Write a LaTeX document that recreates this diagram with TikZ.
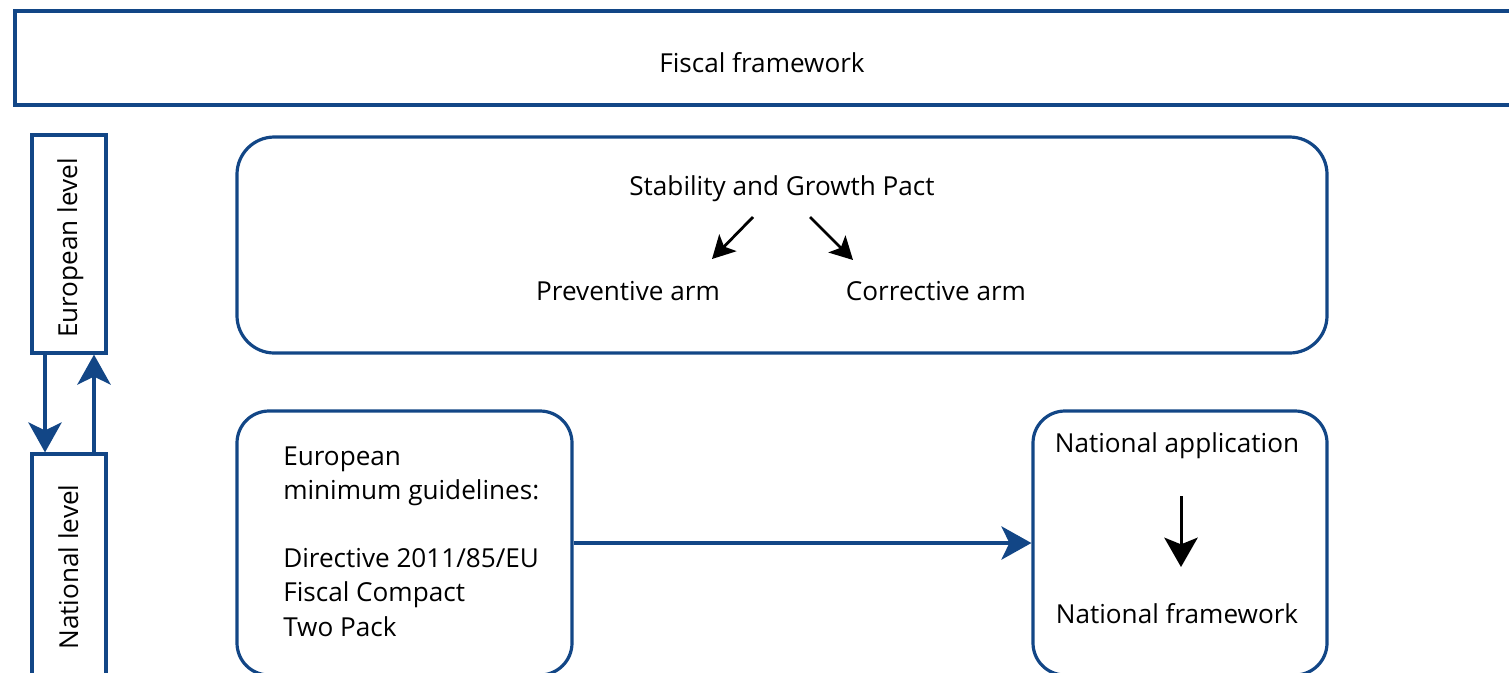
\documentclass[tikz,border=0pt]{standalone}
\usepackage{fontspec}
\setmainfont{Open Sans}
\usetikzlibrary{arrows.meta,fit}
\definecolor{fwblue}{RGB}{18,70,134}

\begin{document}
\begin{tikzpicture}[x=0.75pt,y=-0.75pt,
  every node/.style={font=\fontsize{19.6}{25.6}\selectfont},
  box/.style={draw=fwblue, line width=2.4pt, inner sep=0pt},
  rbox/.style={box, rounded corners=24pt},
  txt/.style={anchor=base, inner sep=0pt},
  bluearr/.style={draw=fwblue, line width=2.4pt, -{Stealth[length=22.5pt,width=25pt,inset=6pt]}},
  blkarr/.style={line width=2.25pt, -{Stealth[length=22pt,width=25pt,inset=5pt]}},
  smallarr/.style={line width=2.1pt, -{Stealth[length=17pt,width=18pt,inset=4pt]}}]

\useasboundingbox (0,0) rectangle (1509,672);
\clip (0,0) rectangle (1509,672);

% Fiscal framework
\node[box, line width=3pt, fit={(15,11) (1530,105)}] (fw) {};
\node[txt] (fwtext) at (762,72) {Fiscal framework};

% Levels
\node[box, fit={(32,135) (106,353)}] (eu) {};
\node[box, fit={(32,454) (106,720)}] (nat) {};
\node[txt, rotate=90] (eutext) at (77,248) {European level};
\node[txt, rotate=90] (nattext) at (78,567) {National level};
\draw[bluearr] ([xshift=-18pt]eu.south) -- ([xshift=-18pt]nat.north);
\draw[bluearr] ([xshift=18.75pt]nat.north) -- ([xshift=18.75pt]eu.south);

% Stability and Growth Pact
\node[rbox, rounded corners=28pt, fit={(237,137) (1327,353)}] (sgpbox) {};
\node[txt] (sgp) at (782,195) {Stability and Growth Pact};
\node[txt] (prev) at (628,300) {Preventive arm};
\node[txt] (corr) at (936,300) {Corrective arm};
\coordinate (sgpleft) at (753,217);
\coordinate (sgpright) at (810,217);
\coordinate (prevtop) at (712,259);
\coordinate (corrtop) at (853,260);
\draw[smallarr] (sgpleft) -- (prevtop);
\draw[smallarr] (sgpright) -- (corrtop);

% Minimum guidelines
\node[rbox, fit={(237,411) (572,675)}] (guide) {};
\node[txt, anchor=base west, align=left] (guidetext) at (283,636)
  {European\\minimum guidelines:\\[25.6pt]Directive 2011/85/EU\\Fiscal Compact\\Two Pack};

% National application
\node[rbox, fit={(1033,411) (1327,675)}] (natbox) {};
\node[txt] (napp) at (1177,452) {National application};
\node[txt] (nfw) at (1177,623) {National framework};
\coordinate (nappbelow) at (1181,496);
\coordinate (nfwabove) at (1181,567);
\draw[blkarr] (nappbelow) -- (nfwabove);

\draw[bluearr] (guide.east) -- (natbox.west);
\end{tikzpicture}
\end{document}
